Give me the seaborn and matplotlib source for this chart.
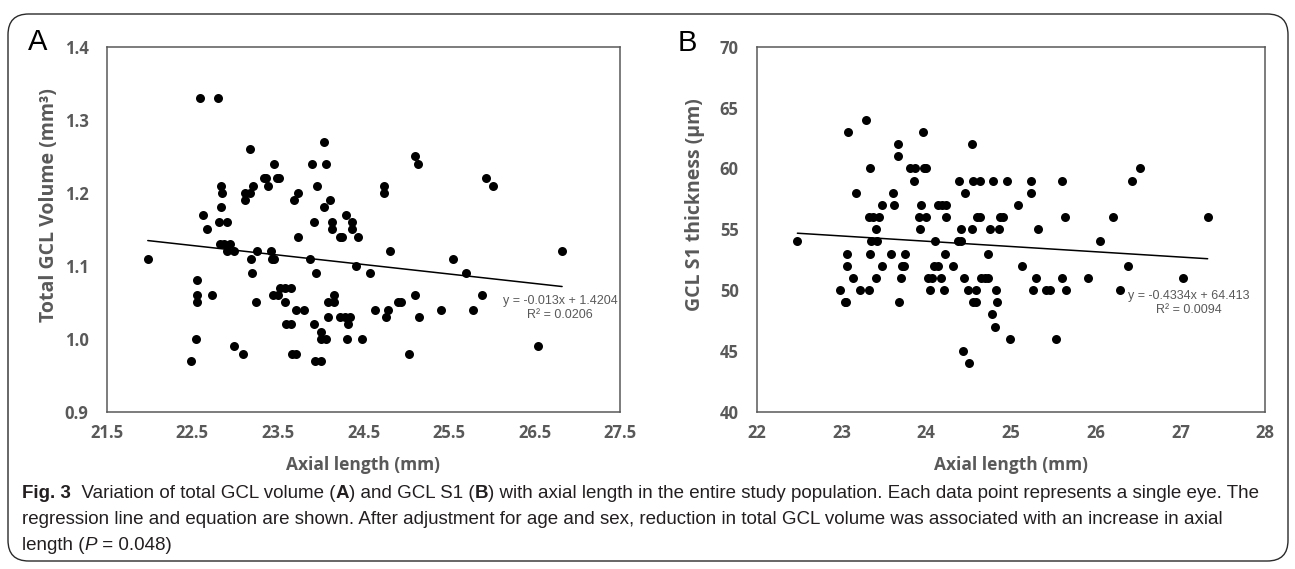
import matplotlib
matplotlib.use("Agg")
import numpy as np
import pandas as pd
import seaborn as sns
import matplotlib.pyplot as plt
from matplotlib import font_manager
from matplotlib.patches import FancyBboxPatch

# panel A: axial length (mm) vs total GCL volume (mm3)
axial_a = [21.98, 22.59, 22.80, 22.48, 22.54, 22.56, 22.55, 22.56, 22.63, 22.67,
           22.73, 22.84, 22.85, 22.84, 22.81, 22.91, 22.82, 22.87, 22.94, 22.91,
           22.99, 22.99, 23.09, 23.11, 23.12, 23.17, 23.21, 23.17, 23.18, 23.20,
           23.25, 23.24, 23.34, 23.36, 23.38, 23.42, 23.43, 23.46, 23.44, 23.50,
           23.46, 23.49, 23.51, 23.52, 23.58, 23.65, 23.58, 23.59, 23.65, 23.66,
           23.71, 23.69, 23.73, 23.73, 23.71, 23.81, 23.88, 23.90, 23.92, 23.92,
           23.93, 24.00, 23.96, 23.95, 24.00, 24.00, 24.06, 24.04, 24.04, 24.06,
           24.11, 24.09, 24.09, 24.13, 24.13, 24.15, 24.16, 24.22, 24.25, 24.22,
           24.29, 24.28, 24.34, 24.32, 24.31, 24.37, 24.36, 24.44, 24.41, 24.48,
           24.58, 24.63, 24.74, 24.74, 24.76, 24.79, 24.81, 24.90, 24.94, 25.03,
           25.10, 25.14, 25.10, 25.15, 25.41, 25.55, 25.70, 25.78, 25.88, 25.93,
           26.01, 26.54, 26.82]
gcl_volume = [1.11, 1.33, 1.33, 0.97, 1.00, 1.08, 1.06, 1.05, 1.17, 1.15,
              1.06, 1.21, 1.20, 1.18, 1.16, 1.16, 1.13, 1.13, 1.13, 1.12,
              1.12, 0.99, 0.98, 1.20, 1.19, 1.20, 1.21, 1.26, 1.11, 1.09,
              1.12, 1.05, 1.22, 1.22, 1.21, 1.12, 1.11, 1.11, 1.06, 1.06,
              1.24, 1.22, 1.22, 1.07, 1.07, 1.07, 1.05, 1.02, 1.02, 0.98,
              0.98, 1.19, 1.20, 1.14, 1.04, 1.04, 1.11, 1.24, 1.16, 1.02,
              0.97, 0.97, 1.21, 1.09, 1.01, 1.00, 1.00, 1.27, 1.18, 1.24,
              1.19, 1.03, 1.05, 1.16, 1.15, 1.05, 1.06, 1.14, 1.14, 1.03,
              1.17, 1.03, 1.03, 1.02, 1.00, 1.16, 1.15, 1.14, 1.10, 1.00,
              1.09, 1.04, 1.21, 1.20, 1.03, 1.04, 1.12, 1.05, 1.05, 0.98,
              1.25, 1.24, 1.06, 1.03, 1.04, 1.11, 1.09, 1.04, 1.06, 1.22,
              1.21, 0.99, 1.12]
slope_a, intercept_a, r2_a = -0.013, 1.4204, 0.0206

# panel B: axial length (mm) vs GCL S1 thickness (um)
axial_b = [22.48, 22.98, 23.04, 23.05, 23.06, 23.06, 23.08, 23.14, 23.17, 23.22,
           23.29, 23.32, 23.33, 23.34, 23.34, 23.35, 23.37, 23.41, 23.42, 23.41,
           23.44, 23.48, 23.48, 23.59, 23.61, 23.62, 23.67, 23.67, 23.68, 23.70,
           23.71, 23.74, 23.75, 23.81, 23.87, 23.85, 23.92, 23.94, 23.93, 23.96,
           23.97, 24.00, 24.00, 24.02, 24.05, 24.07, 24.10, 24.09, 24.14, 24.14,
           24.17, 24.19, 24.23, 24.23, 24.22, 24.21, 24.31, 24.38, 24.41, 24.39,
           24.41, 24.43, 24.44, 24.46, 24.49, 24.50, 24.54, 24.54, 24.55, 24.55,
           24.59, 24.59, 24.60, 24.64, 24.64, 24.65, 24.69, 24.73, 24.73, 24.75,
           24.78, 24.79, 24.81, 24.82, 24.84, 24.86, 24.87, 24.91, 24.95, 24.99,
           25.08, 25.13, 25.24, 25.24, 25.26, 25.29, 25.32, 25.41, 25.46, 25.53,
           25.60, 25.60, 25.64, 25.65, 25.91, 26.05, 26.20, 26.28, 26.38, 26.43,
           26.52, 27.03, 27.32]
s1_thickness = [54, 50, 49, 49, 52, 53, 63, 51, 58, 50,
                64, 50, 56, 60, 53, 54, 56, 55, 54, 51,
                56, 57, 52, 53, 58, 57, 62, 61, 49, 51,
                52, 52, 53, 60, 60, 59, 56, 57, 55, 63,
                60, 60, 56, 51, 50, 51, 54, 52, 52, 57,
                51, 57, 57, 56, 53, 50, 52, 54, 54, 59,
                55, 45, 51, 58, 50, 44, 62, 55, 59, 49,
                49, 50, 56, 56, 59, 51, 51, 51, 53, 55,
                48, 59, 47, 50, 49, 55, 56, 56, 59, 46,
                57, 52, 59, 58, 50, 51, 55, 50, 50, 46,
                59, 51, 56, 50, 51, 54, 56, 50, 52, 59,
                60, 51, 56]
slope_b, intercept_b, r2_b = -0.4334, 64.413, 0.0094

sns.set_theme(style="white")
names = {f.name for f in font_manager.fontManager.ttflist}
narrow = 'Liberation Sans Narrow' if 'Liberation Sans Narrow' in names else 'Liberation Sans'
plt.rcParams['font.family'] = ['Open Sans', 'DejaVu Sans']

W, H = 1295, 569
fig = plt.figure(figsize=(W / 100, H / 100), dpi=100)
grey = '#595959'


def px_axes(x0, x1, y0, y1):
    return fig.add_axes([x0 / W, 1 - y1 / H, (x1 - x0) / W, (y1 - y0) / H])


def panel(ax, x, y, slope, intercept, r2, xlim, xticks, xfmt, ylim, yticks, yfmt, ylabel, eq_xy):
    sns.scatterplot(x=x, y=y, ax=ax, color='black', s=42, linewidth=0, zorder=3)
    xs = np.array([min(x), max(x)])
    line = pd.DataFrame({'x': xs, 'y': slope * xs + intercept})
    sns.lineplot(data=line, x='x', y='y', ax=ax, color='black', linewidth=1.1, zorder=2)
    ax.set_xlim(*xlim)
    ax.set_ylim(*ylim)
    ax.set_xticks(xticks)
    ax.set_xticklabels([xfmt.format(v) for v in xticks])
    ax.set_yticks(yticks)
    ax.set_yticklabels([yfmt.format(v) for v in yticks])
    for s in ax.spines.values():
        s.set_visible(True)
        s.set_color(grey)
        s.set_linewidth(1.1)
    ax.tick_params(axis='both', direction='out', length=4, width=1.1, color=grey,
                   labelcolor=grey, labelsize=12)
    ax.tick_params(axis='x', pad=5)
    ax.tick_params(axis='y', pad=9)
    for lab in ax.get_xticklabels() + ax.get_yticklabels():
        lab.set_fontweight('bold')
    ax.set_xlabel('Axial length (mm)', fontsize=12.5, fontweight='bold', color=grey)
    ax.set_ylabel(ylabel, fontsize=14, fontweight='bold', color=grey)
    sign = '-' if slope < 0 else '+'
    eq = 'y = {}{}x + {}\nR\u00b2 = {}'.format(sign, abs(slope), intercept, r2)
    fig.text(eq_xy[0] / W, 1 - eq_xy[1] / H, eq, ha='center', va='center',
             color=grey, fontsize=9, family=[narrow, 'DejaVu Sans'], linespacing=1.25)


axA = px_axes(106.7, 620.3, 46.7, 412)
axB = px_axes(756.7, 1265.3, 46.7, 411.7)

panel(axA, axial_a, gcl_volume, slope_a, intercept_a, r2_a,
      (21.5, 27.5), np.arange(21.5, 27.6, 1.0), '{:.1f}',
      (0.9, 1.4), np.arange(0.9, 1.41, 0.1), '{:.1f}',
      'Total GCL Volume (mm\u00b3)', (560, 308))
panel(axB, axial_b, s1_thickness, slope_b, intercept_b, r2_b,
      (22, 28), np.arange(22, 29, 1), '{:.0f}',
      (40, 70), np.arange(40, 71, 5), '{:.0f}',
      'GCL S1 thickness (\u00b5m)', (1189, 303))

axA.yaxis.set_label_coords((59 - 106.7) / 513.6, 1 - (205 - 46.7) / 365.3)
axB.yaxis.set_label_coords((705 - 756.7) / 508.6, 1 - (205 - 46.7) / 365.)
axA.xaxis.set_label_coords(0.5, -(456 - 412) / 365.3)
axB.xaxis.set_label_coords(0.5, -(456 - 412) / 365.3)

fig.text(28 / W, 1 - 28 / H, 'A', fontsize=21, va='top', ha='left', color='black',
         family=['Liberation Sans', 'DejaVu Sans'])
fig.text(678 / W, 1 - 29 / H, 'B', fontsize=21, va='top', ha='left', color='black',
         family=['Liberation Sans', 'DejaVu Sans'])

# rounded frame round the whole figure
frame = FancyBboxPatch((8 / W, 8 / H), 1280 / W, (560 - 13) / H,
                       boxstyle='round,pad=0,rounding_size=0.016',
                       transform=fig.transFigure, fill=False,
                       edgecolor='#2a2a2a', linewidth=1.0, mutation_aspect=W / H)
fig.patches.append(frame)

# caption, drawn as runs of mixed weight
caption = [
    [('Fig. 3', 'bold', 'normal'), ('  Variation of total GCL volume (', 'normal', 'normal'),
     ('A', 'bold', 'normal'), (') and GCL S1 (', 'normal', 'normal'), ('B', 'bold', 'normal'),
     (') with axial length in the entire study population. Each data point represents a single eye. The',
      'normal', 'normal')],
    [('regression line and equation are shown. After adjustment for age and sex, reduction in total GCL volume was associated with an increase in axial',
      'normal', 'normal')],
    [('length (', 'normal', 'normal'), ('P', 'normal', 'italic'), (' = 0.048)', 'normal', 'normal')],
]
line_y = [493, 519, 545]
cap_fs = 14
fig.canvas.draw()
renderer = fig.canvas.get_renderer()


def draw_runs(runs, y, fs, draw=True):
    x = 22
    for txt, wt, st in runs:
        t = fig.text(x / W, 1 - y / H, txt, fontsize=fs, fontweight=wt, fontstyle=st,
                     va='center', ha='left', color='#231f20', family=[narrow, 'DejaVu Sans'])
        w = t.get_window_extent(renderer).width
        if not draw:
            t.remove()
        x += w
    return x - 22


width = draw_runs(caption[0], line_y[0], cap_fs, draw=False)
cap_fs = cap_fs * (1265 - 22) / width
for runs, y in zip(caption, line_y):
    draw_runs(runs, y, cap_fs)

fig.savefig('out.png', dpi=100)
